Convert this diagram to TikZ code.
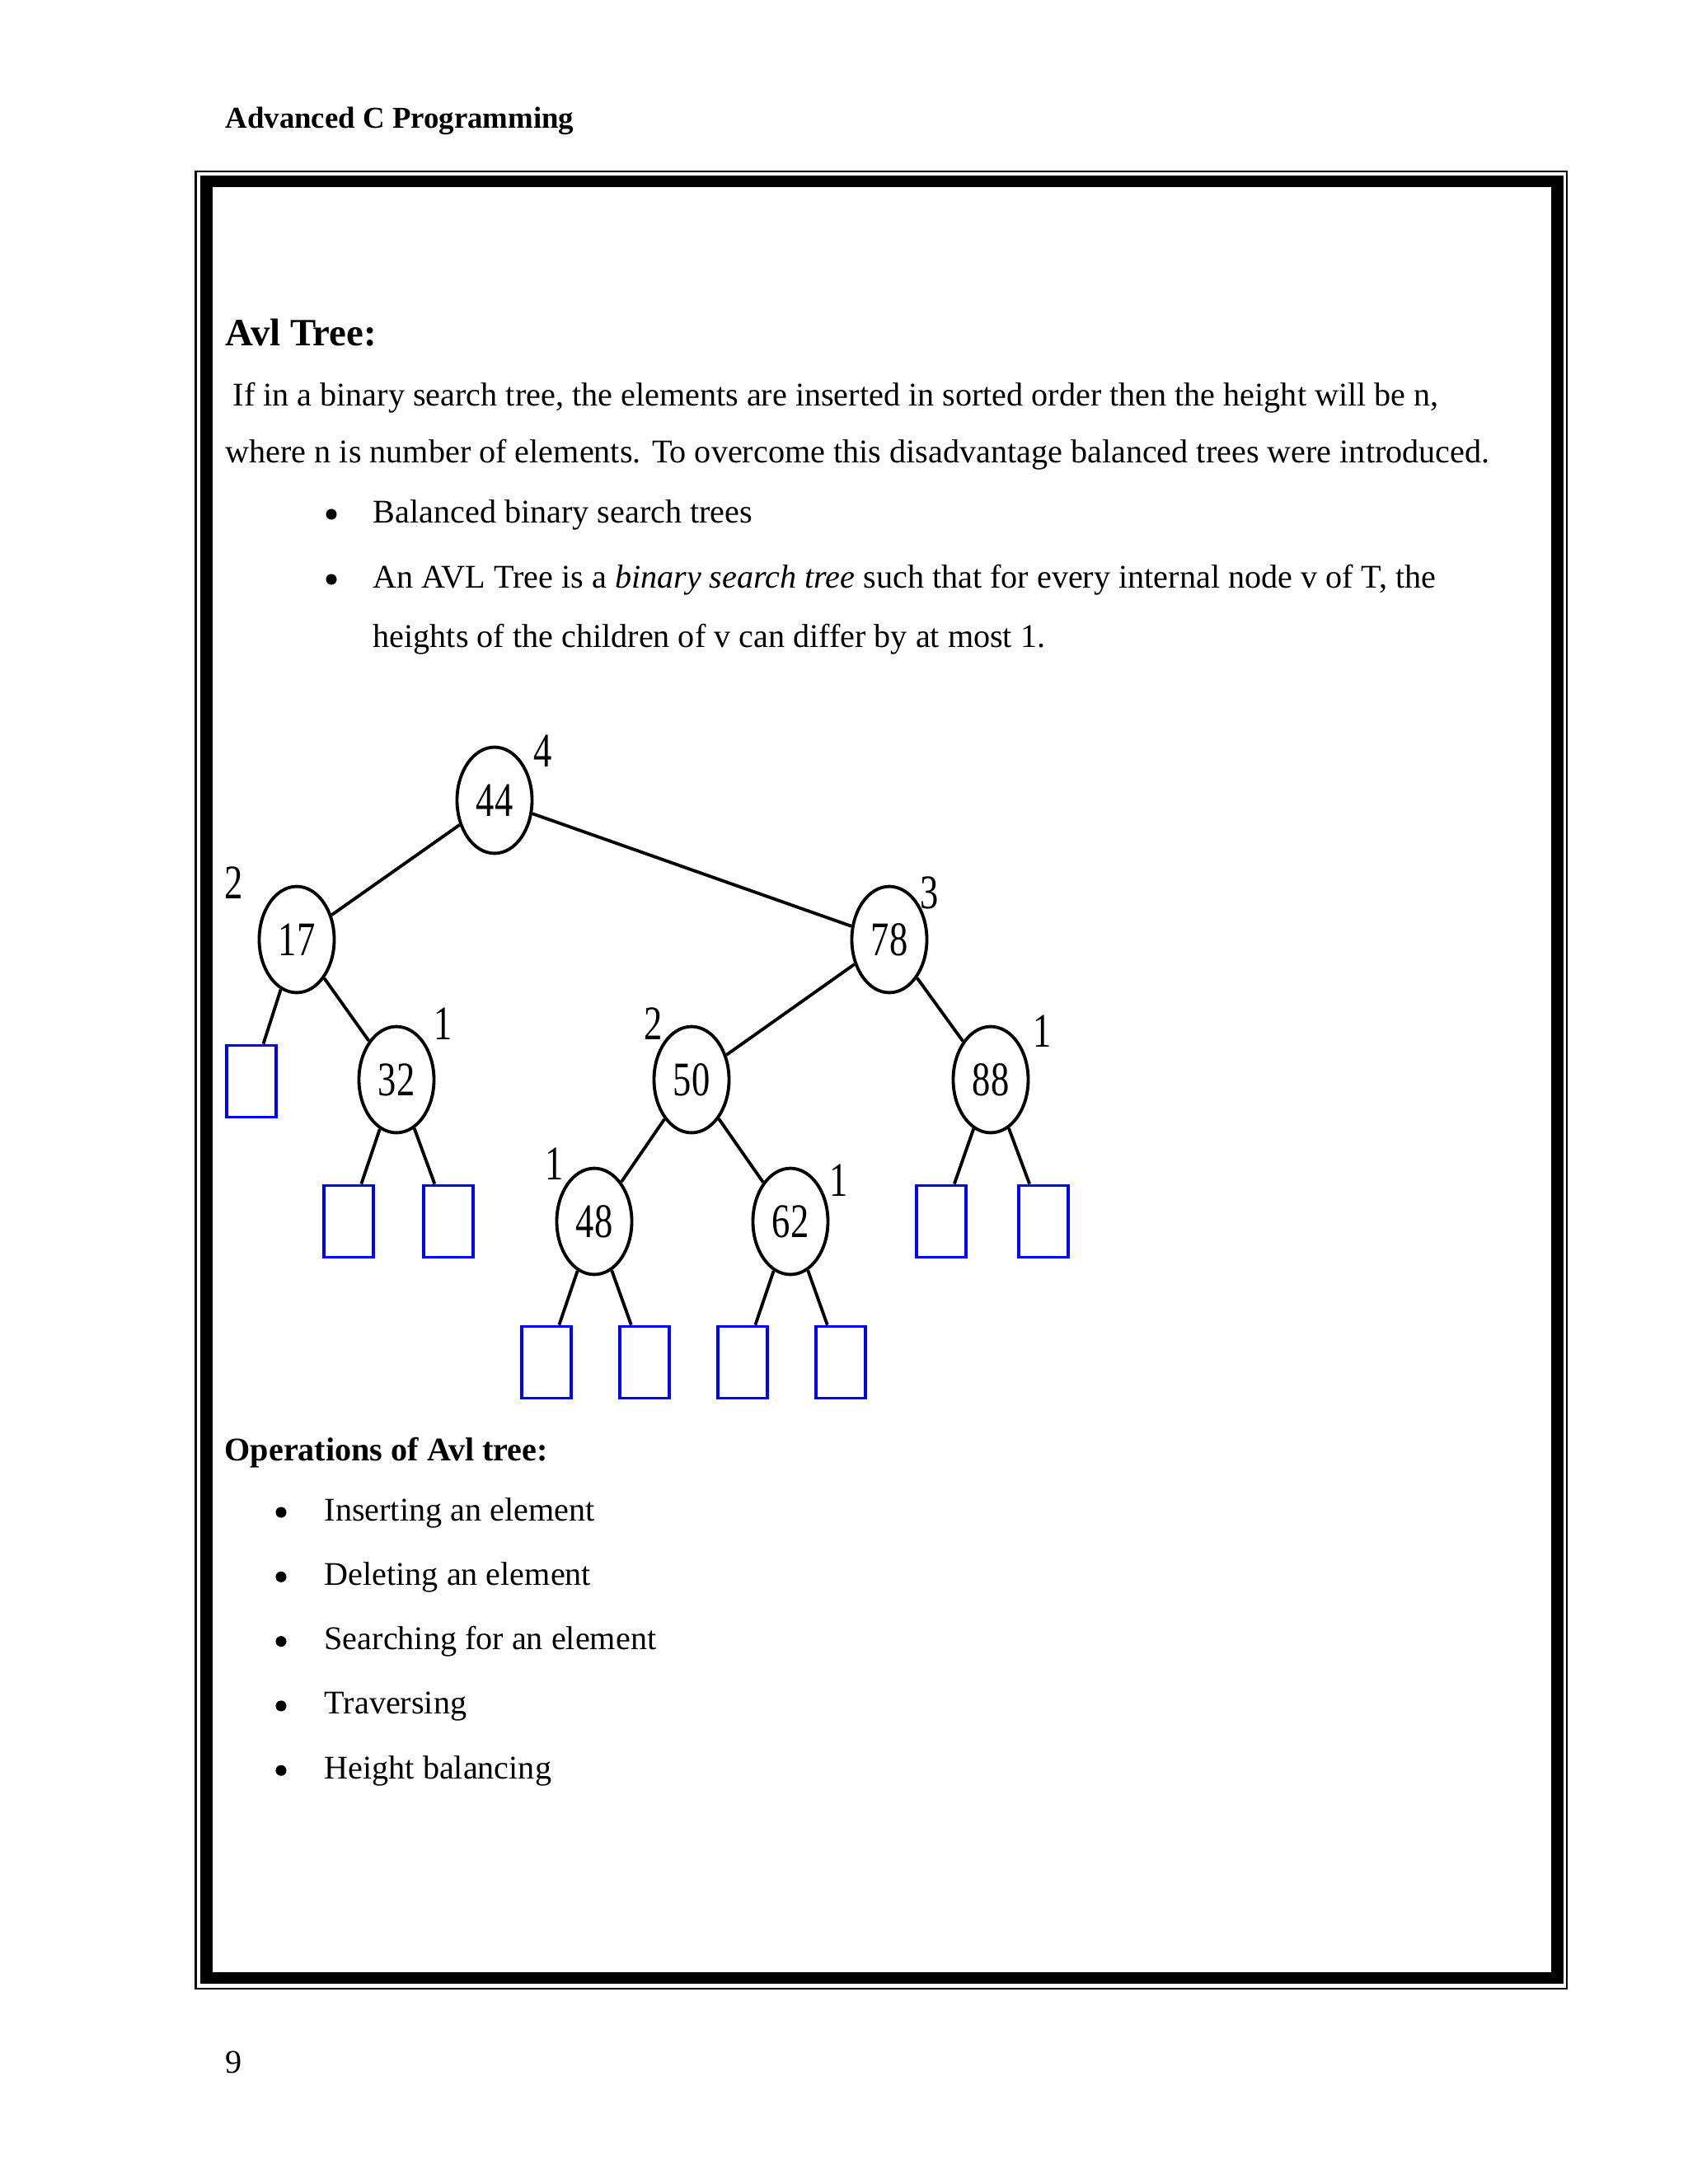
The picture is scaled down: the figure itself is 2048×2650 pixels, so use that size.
\documentclass[tikz,border=0pt]{standalone}
\usepackage{fontspec}
\setmainfont{Liberation Serif}
\newfontfamily\treefont[FakeStretch=0.76]{Liberation Serif}
\usetikzlibrary{shapes.geometric}

\tikzset{
  avl/.style={ellipse, draw, line width=1.15pt, minimum width=27.2pt,
    minimum height=38.5pt, inner sep=0pt, font=\treefont\fontsize{17.5}{17.5}\selectfont},
  leaf/.style={rectangle, draw=blue, line width=1.15pt, minimum width=18pt,
    minimum height=26pt, inner sep=0pt},
  hgt/.style={inner sep=0pt, font=\treefont\fontsize{17.5}{17.5}\selectfont},
  edge/.style={line width=1.15pt},
  txt/.style={anchor=base west, inner sep=0pt, font=\fontsize{12}{14.4}\selectfont},
  dot/.style={circle, fill, inner sep=0pt, minimum size=3.9pt},
}

\begin{document}
\begin{tikzpicture}[x=0.29883pt,y=-0.29883pt]
\useasboundingbox (0,0) rectangle (2048,2650);

% page frame
\draw[line width=0.6pt] (237.5,207.7) rectangle (1901,2413);
\draw[line width=4.35pt] (250.3,219.8) rectangle (1889.7,2400);

% header and page number
\node[txt, font=\bfseries\fontsize{11}{13}\selectfont] (head) at (273,155) {Advanced C Programming};
\node[txt] (pageno) at (273,2515) {9};

% text above the tree
\node[txt, font=\bfseries\fontsize{14}{16}\selectfont] (title) at (273,419) {Avl Tree:};
\node[txt] (par1) at (282,492) {If in a binary search tree, the elements are inserted in sorted order then the height will be n,};
\node[txt] (par2) at (273,561) {where n is number of elements. To overcome this disadvantage balanced trees were introduced.};
\node[dot] (b1) at (402,624) {};
\node[txt] (item1) at (452,634) {Balanced binary search trees};
\node[dot] (b2) at (402,703) {};
\node[txt] (item2) at (452,713) {An AVL Tree is a \textit{binary search tree} such that for every internal node v of T, the};
\node[txt] (item2b) at (452,785) {heights of the children of v can differ by at most 1.};

% tree nodes
\node[avl] (n44) at (600,971) {44};
\node[avl] (n17) at (360,1140) {17};
\node[avl] (n78) at (1079,1140) {78};
\node[avl] (n32) at (481,1310) {32};
\node[avl] (n50) at (839,1310) {50};
\node[avl] (n88) at (1202,1310) {88};
\node[avl] (n48) at (721,1482) {48};
\node[avl] (n62) at (959,1482) {62};

% external nodes
\node[leaf] (e1) at (305,1312) {};
\node[leaf] (e2) at (423,1482) {};
\node[leaf] (e3) at (544,1482) {};
\node[leaf] (e4) at (663,1653) {};
\node[leaf] (e5) at (782,1653) {};
\node[leaf] (e6) at (901,1653) {};
\node[leaf] (e7) at (1020,1653) {};
\node[leaf] (e8) at (1142,1482) {};
\node[leaf] (e9) at (1266,1482) {};

% heights
\node[hgt] (h44) at (659,911) {4};
\node[hgt] (h17) at (284,1071) {2};
\node[hgt] (h78) at (1128,1083) {3};
\node[hgt] (h32) at (538,1242) {1};
\node[hgt] (h50) at (793,1242) {2};
\node[hgt] (h88) at (1265,1251) {1};
\node[hgt] (h48) at (673,1412) {1};
\node[hgt] (h62) at (1018,1432) {1};

% edges
\draw[edge] (n44) -- (n17);
\draw[edge] (n44) -- (n78);
\draw[edge] (n17) -- (e1);
\draw[edge] (n17) -- (n32);
\draw[edge] (n32) -- (e2);
\draw[edge] (n32) -- (e3);
\draw[edge] (n78) -- (n50);
\draw[edge] (n78) -- (n88);
\draw[edge] (n50) -- (n48);
\draw[edge] (n50) -- (n62);
\draw[edge] (n48) -- (e4);
\draw[edge] (n48) -- (e5);
\draw[edge] (n62) -- (e6);
\draw[edge] (n62) -- (e7);
\draw[edge] (n88) -- (e8);
\draw[edge] (n88) -- (e9);

% operations
\node[txt, font=\bfseries\fontsize{12}{14.4}\selectfont] (ops) at (272,1772) {Operations of Avl tree:};
\foreach \op [count=\i] in {Inserting an element, Deleting an element,
    Searching for an element, Traversing, Height balancing}
{
  \node[dot] (ob\i) at (341,1835+78.3*\i-78.3) {};
  \node[txt] (op\i) at (393,1845+78.3*\i-78.3) {\op};
}

\end{tikzpicture}
\end{document}
